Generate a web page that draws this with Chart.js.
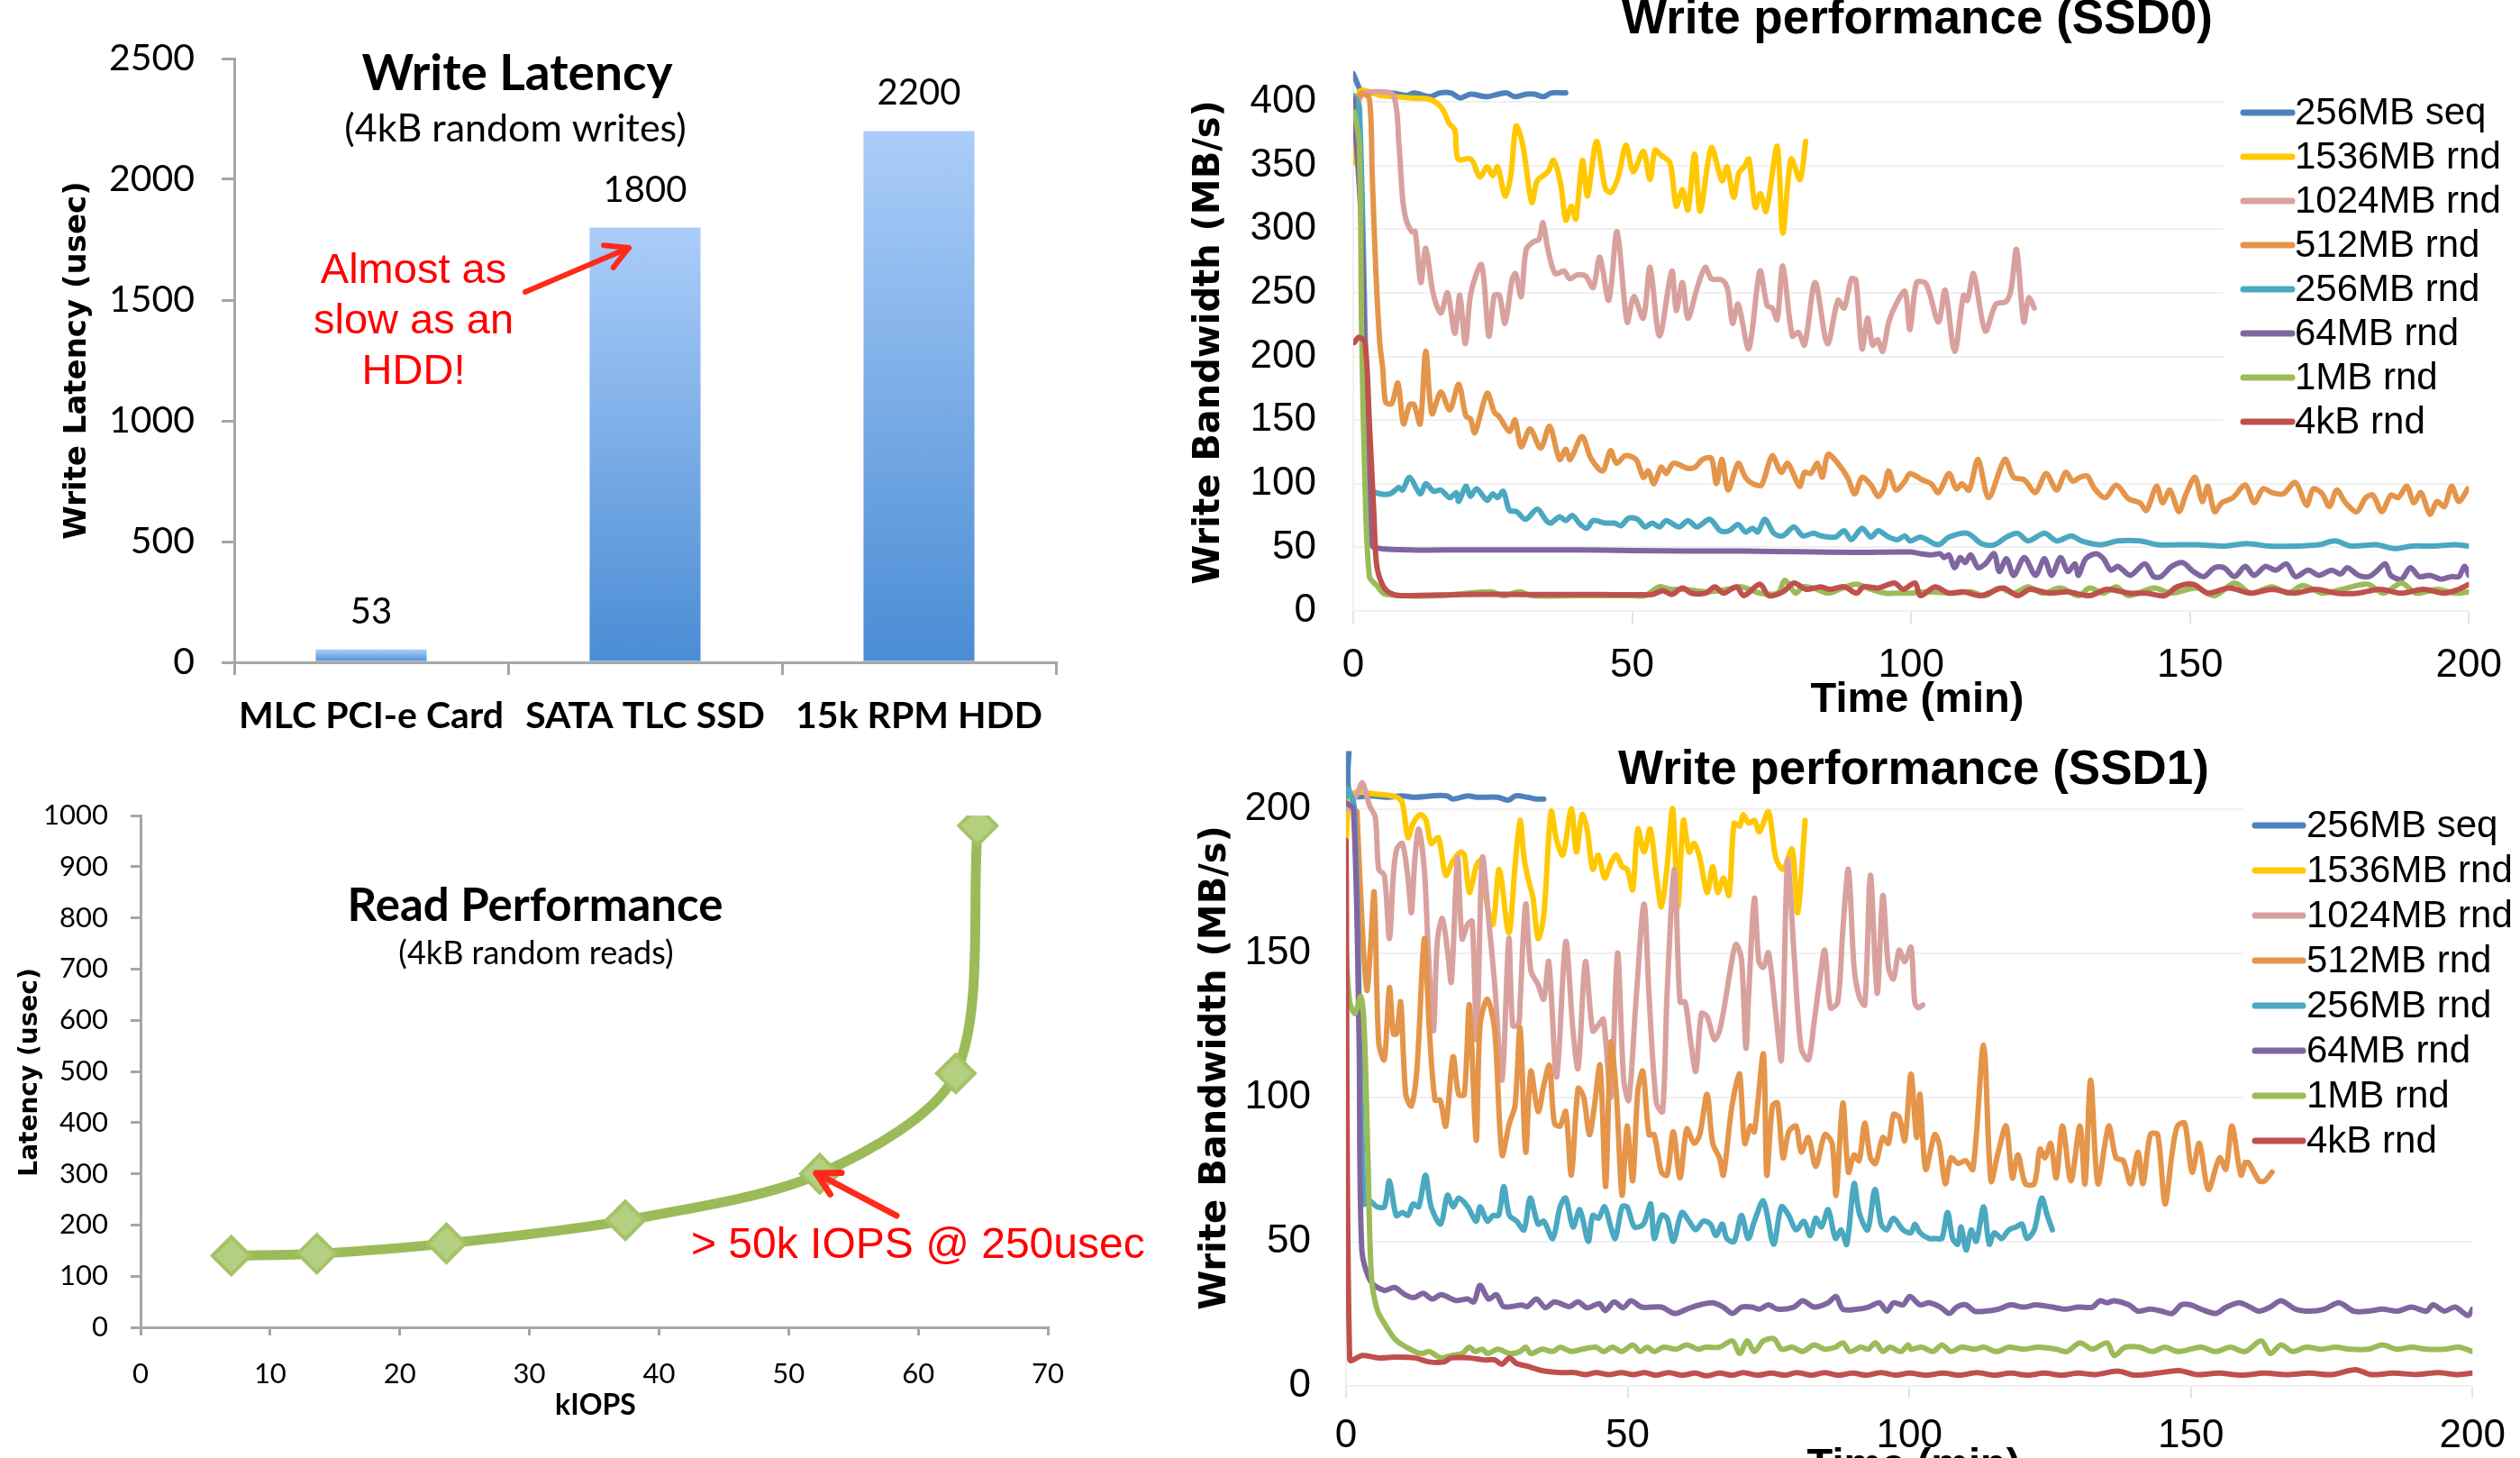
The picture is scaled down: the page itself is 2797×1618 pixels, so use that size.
<!DOCTYPE html>
<html>
<head>
<meta charset="utf-8">
<script src="https://cdn.jsdelivr.net/npm/chart.js@4.4.1/dist/chart.umd.min.js"></script>
<style>
  html, body { margin: 0; padding: 0; background: #fff; }
  #page { position: relative; width: 2797px; height: 1618px; overflow: hidden; background: #fff; }
  #page canvas { position: absolute; left: 0; top: 0; }
</style>
</head>
<body>
<div id="page">
  <canvas id="c-lat" width="2797" height="1618"></canvas>
  <canvas id="c-read" width="2797" height="1618"></canvas>
  <canvas id="c-ssd0" width="2797" height="1618"></canvas>
  <canvas id="c-ssd1" width="2797" height="1618"></canvas>
</div>
<script>
// ---- data ----
const latencyLabels = ['MLC PCI-e Card', 'SATA TLC SSD', '15k RPM HDD'];
const latencyValues = [53, 1800, 2200];

const readIops    = [7, 13.6, 23.6, 37.4, 52.4, 62.9, 64.6];
const readLatency = [140, 144, 164, 209, 300, 496, 980];

const seriesNames = ['256MB seq', '1536MB rnd', '1024MB rnd', '512MB rnd', '256MB rnd', '64MB rnd', '1MB rnd', '4kB rnd'];
const timeTicks = [0, 50, 100, 150, 200];
const ssd0Ticks = [0, 50, 100, 150, 200, 250, 300, 350, 400];
const ssd1Ticks = [0, 50, 100, 150, 200];

// SSD0, [minute, MB/s]
const ssd0Seq = [[0,422],[0.2,420],[1.55,408],[4,407],[7,407],[9.55,405],[11,407],[13.8,404],[15.5,407],[17.5,407],[19.2,403],[21,406],[24,404],[26,406],[27.5,407],[29,404],[31,406],[32.5,406],[34.1,404],[35.5,407],[38.1,407]];
const ssd0Rnd1536 = [[0,352],[1.1,408],[5,405],[10.5,403],[13.7,402],[15.9,395],[17.2,383],[18.2,378],[18.8,355],[21.1,355],[22.7,341],[24,349],[25,342],[25.9,349],[27.2,326],[28.2,341],[29.2,381],[30.4,366],[32,321],[33,338],[34.9,345],[35.9,354],[37.2,335],[38.1,307],[39.1,318],[39.9,308],[41.1,354],[42,326],[43.6,369],[45.2,332],[46.2,329],[47.5,341],[48.9,366],[50.2,345],[52,361],[53.2,339],[54.1,362],[55.2,358],[56.8,352],[57.9,318],[59,331],[60,315],[61.2,359],[62.2,314],[64.2,364],[66.1,338],[67,349],[68.2,325],[69.1,344],[70.1,349],[70.9,355],[72.1,317],[73,328],[74,314],[76,365],[77,297],[78.5,355],[80.1,339],[81.1,369]];
const ssd0Rnd1024 = [[0,380],[1.45,405],[4,408],[7.2,405],[8.2,366],[8.85,324],[9.5,307],[10.5,298],[11.1,298],[12.1,258],[13,285],[14.3,250],[15.7,234],[16.9,250],[18.2,218],[19.1,248],[20.1,210],[21.1,250],[23,272],[24.3,216],[25.3,248],[26.2,248],[27.2,226],[28.5,261],[29.1,265],[30.1,247],[31,284],[32.3,290],[33.3,292],[34,305],[34.9,284],[36.2,265],[37.8,267],[38.8,261],[40.1,264],[41.7,263],[43,254],[44.2,278],[45.8,244],[47.3,298],[49.1,227],[50.3,247],[52,230],[53.2,270],[54.9,216],[57.1,267],[57.9,236],[59,258],[60,230],[61.6,253],[63.1,270],[64.2,261],[66.1,260],[67.1,253],[68,226],[69,241],[70.9,206],[72.9,267],[74.2,240],[75.1,238],[76,229],[77,271],[78.7,216],[79.8,219],[80.9,209],[82.8,258],[85,210],[86.9,244],[88,238],[89.3,261],[90.1,260],[91.2,206],[92.2,230],[93.1,209],[94,213],[94.9,204],[96,227],[97.3,241],[98.9,251],[99.8,221],[101,258],[102.7,257],[104.9,227],[106.1,252],[107.8,204],[109.4,248],[110.1,244],[111.2,265],[113.3,220],[115.2,241],[117,243],[117.9,252],[118.9,284],[120.2,227],[121.1,246],[122.1,238]];
const ssd0Rnd512 = [[0.75,403],[1.55,407],[2.9,402],[3.4,343],[4,272],[4.75,211],[5.3,190],[5.8,164],[6.9,163],[8,179],[9,147],[10.1,162],[10.9,162],[12,147],[13,204],[14.1,155],[15.7,172],[17.3,158],[18.9,178],[20.2,153],[21,151],[21.8,140],[24,171],[25.3,156],[26.1,153],[28,141],[29,150],[30.1,129],[31.7,143],[33.6,128],[35.2,145],[37,119],[38.1,127],[38.9,119],[41,137],[42.6,120],[44.7,110],[46.1,126],[47.2,116],[48.8,122],[50.7,119],[52,105],[52.9,110],[53.9,100],[55.2,113],[56.1,108],[57.4,116],[60,112],[61.3,113],[62.6,119],[64.2,120],[65.1,100],[66.1,119],[67.2,95],[69,116],[70.3,105],[71.6,100],[73.2,99],[75.1,122],[76.7,109],[77.9,116],[80,98],[80.9,109],[82,108],[83.2,116],[84.1,105],[85.1,123],[86.7,117],[88.6,105],[89.9,92],[91.2,105],[92.8,99],[94.1,90],[95.1,96],[96,110],[97.3,95],[98.9,102],[99.8,108],[102,103],[103.6,100],[104.9,93],[106.8,108],[108.1,96],[109.1,100],[110.4,95],[112,119],[113.9,89],[116.8,119],[118.4,105],[120.3,103],[122.3,93],[124.2,108],[126.1,95],[127.7,109],[129,102],[130.3,105],[131.6,106],[132.9,96],[134.8,89],[136.8,99],[139,88],[141,85],[142.2,79],[144,98],[145.1,85],[146.4,95],[148,78],[149.3,92],[150.9,105],[152.2,86],[153.2,98],[154.4,78],[155.7,85],[157.7,89],[159.9,99],[161.5,85],[163.1,96],[164.7,93],[166.7,92],[168.9,101],[170.9,83],[172.1,96],[173.7,92],[175,82],[176.3,95],[177.9,85],[179.9,78],[181.5,89],[182.8,91],[184.4,78],[186,91],[187.3,89],[188.9,98],[190.1,85],[191.4,93],[193,76],[194.3,86],[195.6,82],[196.9,98],[198.2,86],[199.8,96]];
const ssd0Rnd256 = [[0,405],[1.1,396],[2.9,98],[4,93],[6.6,92],[8.2,97],[8.85,95],[10.1,105],[12,92],[13,100],[14.4,94],[15.7,95],[17.3,89],[18.5,93],[18.9,86],[20.2,98],[21,90],[22.1,96],[24,87],[25,92],[25.9,89],[26.9,94],[28,79],[29.3,78],[30.9,72],[33,80],[34.6,71],[35.4,69],[37,74],[38.1,71],[39.3,75],[40.7,68],[41.9,65],[43,71],[45.2,69],[46.8,69],[48,67],[49.4,73],[51,72],[52.3,66],[53.6,69],[54.9,66],[56.1,71],[58.4,66],[60,71],[61.6,66],[63.9,72],[65.8,63],[67.4,63],[69,68],[70.3,62],[71.6,65],[72.5,62],[73.8,72],[75.4,61],[77,59],[79,66],[80.6,59],[82.5,61],[83.8,59],[86.4,58],[88,63],[89.3,56],[91.2,65],[92.8,58],[94.1,63],[96,58],[97.6,56],[98.9,59],[99.8,55],[101.7,58],[104.9,52],[106.8,58],[110.1,61],[112.6,53],[114.9,52],[117.1,58],[119.1,61],[121,55],[123.9,61],[126.1,55],[128.7,59],[130.6,55],[133.9,52],[137.1,55],[141,55],[144.2,52],[148,52],[151.2,52],[156.4,51],[160.2,53],[164.1,51],[169.2,51],[173.1,52],[176,55],[178.9,51],[183.4,52],[186.6,49],[189.8,51],[193.7,51],[197.5,52],[200,51]];
const ssd0Rnd64 = [[0,402],[1.5,300],[2.5,110],[3.1,57],[3.7,50],[10,48],[20,48],[30,48],[40,48],[50,47.5],[60,47],[70,47],[80,46.5],[90,46],[99.8,46.4],[101.7,45],[103.6,44],[105.2,45],[105.9,42],[106.8,44],[107.8,34],[108.8,42],[109.7,38],[110.7,44],[112,34],[113.3,37],[114.9,45],[115.8,31],[117.1,41],[118.4,28],[120.3,42],[122.3,28],[123.9,41],[125.2,28],[126.8,42],[128.1,31],[129.4,37],[130,28],[131.3,41],[133.2,45],[134.5,41],[135.8,32],[137.1,35],[139.3,28],[141.9,37],[143.5,27],[144.8,27],[146.7,35],[148.7,38],[150.6,31],[152.5,27],[154.4,34],[156.1,34],[158,27],[159.9,35],[161.5,28],[163.5,35],[165.4,32],[167.3,37],[168.9,27],[171.2,32],[173.1,28],[175.4,32],[177,29],[178.2,34],[180.2,28],[182.1,27],[183.4,31],[185,37],[186,28],[187.9,25],[189.5,34],[191.1,27],[193,28],[195,25],[196.9,27],[198.2,27],[199.2,35],[200,28]];
const ssd0Rnd1m = [[0.2,392],[1.1,366],[1.5,220],[2.1,100],[2.9,27],[4.2,20],[5.8,13],[15,12],[24.6,15],[27,12],[29.8,15],[32,12],[40,12],[50,12],[52.3,12],[54.9,19],[56.8,17],[59.4,17],[63.2,15],[67.1,17],[69.6,19],[72.9,14],[76.1,14],[77.4,24],[79.3,14],[80.6,19],[82.5,18],[85.1,14],[87.7,18],[90.2,21],[92.8,17],[95.4,14],[98,14],[99.8,14],[103,15],[107.5,14],[110.7,15],[113.3,12],[115.8,18],[118.4,14],[121,19],[123.6,14],[126.8,18],[130,12],[132,18],[134.5,14],[136.8,19],[139,12],[143.5,18],[146.7,14],[151.2,18],[154.4,12],[158,22],[160.9,14],[164.7,19],[167.6,14],[170.2,20],[173.7,14],[177.3,17],[181.8,21],[184.7,14],[187.9,22],[190.5,14],[194.3,17],[197.5,14],[200,15]];
const ssd0Rnd4k = [[0.2,211],[1,215],[2.1,211],[2.9,147],[3.7,76],[4.2,36],[5.3,20],[6.6,14],[8.5,12],[20,13],[30,13],[40,13],[53.6,13],[55.5,16],[57.1,13],[59,18],[60.6,14],[63.2,14],[64.8,19],[66.4,14],[68.7,19],[70,12],[72.9,21],[74.5,12],[77,15],[79,22],[81.2,17],[83.8,19],[85.4,17],[88,19],[90.2,14],[91.5,19],[94.1,18],[97,22],[98.6,17],[100.7,22],[101.7,12],[104.3,19],[106.8,14],[109.4,15],[112.6,12],[116.5,18],[119.1,12],[121.3,17],[124.8,14],[128.1,15],[132,12],[135.1,17],[139,14],[142.2,14],[145.4,12],[147.7,19],[150.6,21],[153.2,14],[157,18],[160.9,14],[164.7,17],[168.6,14],[172.5,17],[176.3,14],[180.2,14],[184,17],[187.9,14],[191.8,17],[195.6,14],[198.2,17],[200,21]];

// SSD1, [minute, MB/s]
const ssd1Seq = [[0.6,224],[0.69,205],[4.66,204.5],[7.3,204],[9.96,204.5],[12.1,204],[15.3,204.5],[17.9,204.5],[19,203.4],[21.6,204.5],[23.2,204],[26.9,204],[28.8,203],[30.1,204.5],[32.2,204],[33.8,203.4],[35.1,203.4]];
const ssd1Rnd1536 = [[0,189],[1,205],[5.8,205],[9,204],[10,202],[11,190],[11.9,195],[13.2,198],[14.2,196],[15.1,188],[16.4,190],[17.7,177],[19,182],[20.3,185],[21,184],[21.9,171],[23.1,180],[23.8,182],[25.1,166],[26.1,160],[27.2,179],[28.9,157],[30,180],[30.9,196],[31.6,183],[32.3,176],[33.2,169],[34.1,155],[35.1,163],[36.4,199],[37.4,189],[38.5,184],[40,200],[40.9,185],[41.9,198],[42.8,193],[43.8,179],[44.8,184],[45.9,176],[47,181],[48,184],[49,180],[49.9,179],[50.9,172],[51.8,193],[52.9,185],[54,193],[55.1,177],[56,166],[57,180],[58,200],[58.9,166],[59.9,196],[60.9,185],[61.8,188],[62.8,183],[64.1,171],[65.1,180],[66,171],[67,176],[68,170],[68.9,195],[69.9,194],[70.5,198],[71.5,195],[72.5,196],[73.4,192],[75,199],[76.3,183],[77.6,179],[79.2,186],[80.2,164],[81.5,196]];
const ssd1Rnd1024 = [[0.3,200],[1.94,205],[2.9,209],[4.2,201],[5.2,197],[5.8,179],[6.8,177],[7.7,155],[8.4,177],[9,186],[10,188],[11,176],[11.6,164],[12.2,182],[12.9,193],[13.9,179],[14.5,155],[15.5,123],[16.2,154],[17.1,162],[18,151],[18.7,140],[19.8,183],[20.6,155],[21.6,160],[22.4,161],[23.2,120],[24.2,183],[25.4,160],[26.4,139],[27.7,106],[28.9,155],[29.6,125],[30.6,125],[30.9,133],[31.9,167],[32.8,144],[34.1,139],[35.1,134],[36,147],[37.4,107],[39,154],[40.3,123],[41.2,110],[42.5,147],[43.8,123],[44.8,125],[45.7,127],[47,100],[48.2,150],[49.3,106],[50.2,99],[51.5,134],[52.9,167],[53.8,135],[55.1,98],[56.2,95],[57,136],[58.3,179],[59.3,133],[60.2,133],[61.2,119],[62.1,109],[63.1,129],[64.1,128],[65.4,120],[66.3,123],[67.3,133],[68.3,145],[69.2,153],[70.2,148],[71,117],[71.5,136],[72.5,169],[73.3,147],[74.1,145],[75,150],[76.3,129],[77.3,113],[78.4,182],[79.5,151],[80.8,117],[82.1,113],[83.1,126],[84,139],[85,151],[86,131],[87.3,133],[88.2,158],[89.2,179],[90.2,145],[91.1,135],[92.1,132],[93.1,177],[94.3,136],[95.3,170],[96.3,145],[97.2,141],[98.2,151],[99.2,147],[100.3,152],[100.96,133],[101.6,131],[102.4,132]];
const ssd1Rnd512 = [[1.94,199],[2.9,158],[3.7,137],[4.4,154],[5,171],[5.8,119],[6.8,113],[7.7,138],[8.4,122],[9,122],[9.7,133],[10.6,101],[11.6,97],[12.6,110],[13.9,155],[14.8,123],[15.8,99],[16.7,99],[17.7,90],[19,114],[20,101],[21,101],[21.9,132],[23.1,85],[23.8,125],[25.1,134],[26.4,123],[27.7,80],[29,91],[30,97],[30.9,124],[31.9,81],[32.8,109],[34.1,95],[35.1,104],[36.1,111],[37,91],[38,90],[39,95],[40,73],[41.2,103],[42.2,100],[43.2,87],[44.1,97],[45.1,111],[46.1,69],[47,119],[48,101],[49,66],[49.9,90],[50.9,71],[51.8,102],[52.7,109],[53.8,87],[54.7,87],[56,74],[57,73],[58.1,88],[59.3,72],[60.5,89],[61.8,84],[62.8,87],[64.1,101],[65.1,84],[66.3,79],[67,73],[68.3,94],[69.2,104],[69.9,108],[70.8,84],[71.8,90],[72.5,88],[74.1,115],[74.7,73],[75.7,97],[76.6,98],[77.6,79],[78.6,88],[79.9,90],[80.8,81],[82.1,86],[83.4,76],[85,87],[86.3,84],[87,66],[88.2,98],[89.2,74],[90.2,80],[91.1,78],[92.1,91],[93.1,79],[94,77],[95.3,86],[96.3,84],[97.2,94],[98.2,93],[99.2,85],[100.3,108],[101.3,86],[101.9,101],[102.9,75],[104.5,87],[105.3,84],[106.4,70],[107.4,79],[108.7,77],[110,78],[111.3,75],[113.2,118],[114.5,71],[115.8,81],[117.2,90],[118.3,72],[119.3,80],[120.6,70],[122.2,70],[123.2,82],[124.1,79],[125.1,84],[126.1,72],[127.2,90],[128.7,71],[130.3,90],[131.2,70],[132.2,106],[133.5,70],[135.4,90],[136.7,79],[138,78],[139.3,70],[140.6,81],[141.5,70],[142.8,87],[144.1,87],[145.4,63],[146.7,81],[147.6,90],[148.9,91],[150.2,74],[151.5,84],[153.1,68],[155.1,79],[156.2,75],[157.3,90],[158.9,73],[159.9,78],[162.1,71],[163.1,71],[164.4,74]];
const ssd1Rnd256 = [[0,204],[0.33,207],[1.5,200],[3.2,63],[4.2,64],[5.5,62],[6.8,62],[7.7,71],[8.9,59],[10,60],[11,59],[11.9,63],[12.9,62],[14.1,73],[15.1,62],[16.8,56],[18,66],[19,62],[20,65],[21.6,62],[23.1,57],[23.8,62],[25.1,57],[26.1,59],[27.1,59],[28,69],[29,59],[30.3,57],[31.6,54],[32.7,65],[34.1,56],[35.1,57],[36.7,51],[38,62],[39,65],[40.3,55],[41.5,61],[43,50],[43.8,59],[44.8,58],[45.9,62],[47,55],[47.8,51],[49,62],[49.9,62],[51.2,55],[52.8,56],[54.1,63],[54.7,51],[56,59],[57,58],[58.1,50],[59.6,60],[60.9,57],[62.1,54],[63.4,57],[64.7,56],[65.7,52],[66.8,56],[67.6,51],[68.9,50],[70.2,59],[71.4,51],[72.5,57],[74.1,64],[75.9,49],[77.3,62],[78.6,59],[79.9,54],[81.3,57],[82.4,52],[83.4,58],[84.4,55],[85.6,61],[86.9,51],[87.9,54],[88.9,49],[90.2,70],[91.1,60],[92.6,54],[93.9,68],[95,56],[96,54],[97.2,58],[98.9,54],[100.3,53],[101,56],[101.9,53],[103.5,51],[104.8,51],[105.8,51],[106.8,60],[107.7,51],[108.6,49],[109.2,55],[110.1,47],[111,54],[111.9,50],[113.2,62],[114.2,49],[115.1,53],[116.4,51],[117.7,54],[119,55],[120,56],[120.9,51],[122.2,54],[123.5,65],[124.5,59],[125.4,54]];
const ssd1Rnd64 = [[0,202],[1.3,200],[2.3,122],[2.8,47],[4.4,36],[6.8,33],[8.6,34],[10.5,31.5],[12.1,30.5],[13.7,32],[15.3,30],[16.9,31.5],[19.5,29.5],[21.6,30],[22.7,29],[23.8,34.7],[25.3,30],[26.7,31.5],[28,27.4],[31.2,27.9],[32.2,27.4],[33.8,30],[35.4,27],[37,29],[39.6,27.4],[41.2,29],[42.8,27],[45,28.4],[46,26],[47.6,29],[49.2,27],[50.6,29.4],[52.5,27.2],[56,27.2],[58.3,25],[60.5,26.5],[62.8,28],[65.1,28.7],[67,27.2],[68.6,25],[70.2,27.2],[72.1,27.2],[73.4,26.5],[75,28],[76.6,26.5],[79.5,27.2],[81.1,29.4],[83.1,27.2],[85.6,28.7],[87,30.9],[88.2,26.5],[90.8,26.5],[92.7,27.2],[94.7,28.7],[96,25.8],[97.2,28.7],[98.9,28],[100.1,30.9],[101.9,28],[103.5,28.7],[105.5,27.2],[107.1,25],[108.4,27.2],[110,28],[111.6,25.8],[113.5,25.8],[115.8,26.5],[118,28],[120.3,27.2],[122.5,28],[125.4,27.2],[127.7,26.5],[130,27.2],[132.5,27.2],[133.8,29.4],[135.1,28.7],[136.4,29.4],[139,28],[140.6,25.8],[142.8,26.5],[144.8,25.8],[146.7,25],[148.3,28],[149.9,28],[151.8,26.5],[154.4,25],[156.3,27.2],[158.6,28.7],[160.5,27.2],[162.1,25.8],[164.1,27.2],[166,29.4],[168.6,26.5],[171.2,25.8],[173.7,26.5],[176.3,28.7],[178.9,25.8],[181.5,25.8],[184,26.5],[186.6,25.8],[189.2,27.2],[191.8,25.8],[193,28],[195,25.8],[196.9,27.2],[199.2,24.3],[200,26.5]];
const ssd1Rnd1m = [[0,150],[0.65,133],[1.6,129],[2.6,135],[3.2,125],[3.9,78],[4.5,38],[5.5,26.5],[7.1,20.6],[9,15.5],[12.2,11.8],[13.5,11.1],[14.8,11.8],[16.8,9.6],[18.7,10.4],[20.6,11.1],[21.9,13.3],[22.9,11.8],[24.2,12.6],[25.1,11.1],[27,12.6],[29,11.1],[30.9,11.8],[31.9,13.3],[32.8,11.1],[34.8,12.6],[36.7,11.8],[38,13.3],[40,11.8],[41.9,12.6],[44.4,13.3],[45.7,11.8],[47.3,13.3],[49,11.8],[50.9,14.1],[52.2,11.8],[53.5,13.3],[54.7,11.8],[56.4,13.3],[58.6,12.6],[60.5,14.1],[62.5,12.6],[63.8,13.3],[66.3,13.3],[68.6,15.5],[69.9,11.1],[71.2,15.5],[72.5,11.8],[74.1,15.5],[76,16.2],[77.3,12.6],[79.2,13.3],[81.1,11.8],[83.1,14.1],[85,12.6],[86.9,13.3],[88.2,14.8],[89.5,11.8],[91.4,13.3],[92.7,12.6],[94,14.8],[95.3,11.8],[96.6,13.3],[98.5,11.8],[99.8,14.1],[100.3,12.6],[102.2,13.3],[104.2,11.8],[105.8,14.1],[107.4,11.8],[109.3,13.3],[111.6,12.6],[113.2,13.3],[115.5,11.8],[117.7,13.3],[120.3,12.6],[122.9,13.3],[126.1,12.6],[128,11.8],[130.3,14.8],[132.5,12.6],[135.1,14.8],[136.4,10.4],[138.3,13.3],[140.9,13.3],[143.1,11.8],[145.4,13.3],[147.6,11.8],[149.9,12.6],[151.8,13.3],[154.4,11.8],[157,13.3],[159.6,11.8],[162.5,15.5],[164.1,11.1],[166,14.1],[168,11.8],[170.5,13.3],[173.1,12.6],[175.7,13.3],[178.2,12.6],[181.5,12.6],[184,14.1],[186.6,12.6],[189.2,13.3],[191.8,12.6],[195,12.6],[197.6,13.3],[200,11.8]];
const ssd1Rnd4k = [[0,189],[0.65,9],[2.9,10.4],[5.8,9.6],[9,9.9],[12.2,9.6],[14.8,8.2],[17.4,8.2],[18.7,9.6],[21.9,9.6],[24.5,8.9],[26.4,8.9],[27.7,7.4],[29,9.6],[30.3,7.6],[32.2,6.7],[34.8,5.2],[38,4.5],[40.6,4.5],[42.5,3.8],[44.4,4.5],[46.7,3.8],[48.9,4.5],[51,3.8],[53,4.5],[55,3.6],[57.3,4.5],[59.6,3.6],[62,4.3],[64,3.4],[66.3,4.3],[68.6,3.6],[70.5,4.5],[73,3.6],[75.5,4.3],[78,3.6],[80,4.5],[82.7,3.6],[85,4.5],[87.3,3.6],[90,4.3],[92.4,3.6],[95,4.5],[97.5,3.6],[100,4.3],[103,3.6],[106,4.3],[109,3.6],[112,4.5],[115,3.6],[118,4.3],[121,3.6],[124,4.3],[127,3.6],[130,4.3],[133,3.8],[137,5],[140,3.6],[144,4.3],[147.9,5.2],[151,3.8],[155,4.3],[159,3.6],[163,4.3],[167,3.8],[171,4.3],[175,3.8],[179.2,5.5],[182,3.8],[186,4.3],[190,3.8],[194,4.5],[197,3.8],[200,4.3]];

// ---- styles ----
const seriesColors = ['#4f81bd', '#ffc800', '#d9a19e', '#e4954a', '#4aa8c1', '#8066a0', '#9bbb59', '#c0504d'];
const AXIS = '#a6a6a6';
const CALIBRI = 'Lato, "Open Sans", sans-serif';
const ARIAL = '"Liberation Sans", Arial, sans-serif';
const VERDANA = '"DejaVu Sans", Verdana, sans-serif';
const plainNumber = v => String(v);

function arrow(ctx, x0, y0, x1, y1, head, width, color) {
  const a = Math.atan2(y1 - y0, x1 - x0);
  ctx.save();
  ctx.strokeStyle = color; ctx.lineWidth = width; ctx.lineCap = 'round'; ctx.lineJoin = 'round';
  ctx.beginPath(); ctx.moveTo(x0, y0); ctx.lineTo(x1, y1); ctx.stroke();
  ctx.beginPath();
  ctx.moveTo(x1 - head * Math.cos(a - 0.5), y1 - head * Math.sin(a - 0.5));
  ctx.lineTo(x1, y1);
  ctx.lineTo(x1 - head * Math.cos(a + 0.5), y1 - head * Math.sin(a + 0.5));
  ctx.stroke();
  ctx.restore();
}

function vtext(ctx, s, x, y, font) {
  ctx.save();
  ctx.translate(x, y); ctx.rotate(-Math.PI / 2);
  ctx.font = font; ctx.fillStyle = '#000'; ctx.textAlign = 'center'; ctx.textBaseline = 'middle';
  ctx.fillText(s, 0, 0);
  ctx.restore();
}

// fixed plot rectangles: chart area = padding + fixed axis sizes
function fixW(w) { return s => { s.width = w; }; }
function fixH(h) { return s => { s.height = h; }; }
function useTicks(values) { return s => { s.ticks = values.map(v => ({ value: v })); }; }

// ---- Write Latency bars ----
new Chart(document.getElementById('c-lat'), {
  type: 'bar',
  data: {
    labels: latencyLabels,
    datasets: [{
      data: latencyValues,
      barPercentage: 0.405,
      categoryPercentage: 1,
      borderWidth: 0,
      backgroundColor: c => {
        const y = c.chart.scales.y;
        if (!y || c.dataIndex === undefined) return '#7aaae8';
        const top = y.getPixelForValue(latencyValues[c.dataIndex]);
        const base = y.getPixelForValue(0);
        if (!isFinite(top) || !isFinite(base) || top === base) return '#7aaae8';
        const g = c.chart.ctx.createLinearGradient(0, top, 0, base);
        g.addColorStop(0, '#abcdf9');
        g.addColorStop(1, '#4a8cd4');
        return g;
      },
    }],
  },
  options: {
    responsive: false, devicePixelRatio: 1, animation: false,
    layout: { autoPadding: false, padding: { left: 40, top: 65, right: 1625, bottom: 803 } },
    plugins: { legend: { display: false }, tooltip: { enabled: false } },
    scales: {
      x: {
        afterFit: fixH(80),
        grid: { offset: true, drawOnChartArea: false, tickLength: 14, color: AXIS, lineWidth: 3 },
        border: { color: AXIS, width: 3 },
        ticks: { color: '#000', padding: 21, font: { family: CALIBRI, size: 41, weight: 'bold' } },
      },
      y: {
        min: 0, max: 2500,
        afterFit: fixW(220),
        grid: { drawOnChartArea: false, tickLength: 14, color: AXIS, lineWidth: 3 },
        border: { color: AXIS, width: 3 },
        ticks: { stepSize: 500, callback: plainNumber, color: '#000', padding: 30, font: { family: CALIBRI, size: 41 } },
      },
    },
  },
  plugins: [{
    id: 'latText',
    afterDraw(chart) {
      const ctx = chart.ctx, sx = chart.scales.x, sy = chart.scales.y;
      ctx.save();
      ctx.fillStyle = '#000'; ctx.textAlign = 'center'; ctx.textBaseline = 'alphabetic';
      ctx.font = 'bold 55px ' + CALIBRI; ctx.fillText('Write Latency', 574, 100);
      ctx.font = '43px ' + CALIBRI; ctx.fillText('(4kB random writes)', 572, 157);
      ctx.font = '40px ' + CALIBRI;
      latencyValues.forEach((v, i) => ctx.fillText(String(v), sx.getPixelForValue(i), sy.getPixelForValue(v) - 29));
      ctx.fillStyle = '#ff0000'; ctx.font = '47px ' + ARIAL;
      ['Almost as', 'slow as an', 'HDD!'].forEach((s, i) => ctx.fillText(s, 459, 314 + i * 56));
      ctx.restore();
      vtext(ctx, 'Write Latency (usec)', 86, 400, 'bold 34px ' + VERDANA);
      arrow(ctx, 583, 324, 698, 275, 28, 6, '#ff2a1a');
    },
  }],
});

// ---- Read performance ----
new Chart(document.getElementById('c-read'), {
  type: 'line',
  data: {
    datasets: [{
      data: readIops.map((x, i) => ({ x, y: readLatency[i] })),
      borderColor: '#9bbb59', borderWidth: 11,
      tension: 0.3,
      pointStyle: 'rectRot', pointRadius: 21,
      pointBackgroundColor: '#b5cf80', pointBorderColor: '#a6c267', pointBorderWidth: 4,
    }],
  },
  options: {
    responsive: false, devicePixelRatio: 1, animation: false,
    layout: { autoPadding: false, padding: { left: 6, top: 905, right: 1634, bottom: 65 } },
    plugins: { legend: { display: false }, tooltip: { enabled: false } },
    scales: {
      x: {
        type: 'linear', min: 0, max: 70,
        afterFit: fixH(80),
        grid: { drawOnChartArea: false, tickLength: 9, color: AXIS, lineWidth: 3 },
        border: { color: AXIS, width: 3 },
        ticks: { stepSize: 10, callback: plainNumber, color: '#000', padding: 24, font: { family: CALIBRI, size: 31 } },
      },
      y: {
        min: 0, max: 1000,
        afterFit: fixW(150),
        grid: { drawOnChartArea: false, tickLength: 11, color: AXIS, lineWidth: 3 },
        border: { color: AXIS, width: 3 },
        ticks: { stepSize: 100, callback: plainNumber, color: '#000', padding: 25, font: { family: CALIBRI, size: 31 } },
      },
    },
  },
  plugins: [{
    id: 'readText',
    afterDraw(chart) {
      const ctx = chart.ctx;
      ctx.save();
      ctx.fillStyle = '#000'; ctx.textAlign = 'center'; ctx.textBaseline = 'alphabetic';
      ctx.font = 'bold 51px ' + CALIBRI; ctx.fillText('Read Performance', 594, 1022);
      ctx.font = '36px ' + CALIBRI; ctx.fillText('(4kB random reads)', 595, 1070);
      ctx.font = 'bold 32px ' + CALIBRI; ctx.fillText('kIOPS', 661, 1570);
      ctx.fillStyle = '#ff0000'; ctx.textAlign = 'left'; ctx.font = '48px ' + ARIAL;
      ctx.fillText('> 50k IOPS @ 250usec', 767, 1396);
      ctx.restore();
      vtext(ctx, 'Latency (usec)', 34, 1190, 'bold 28px ' + VERDANA);
      arrow(ctx, 995, 1349, 906, 1302, 28, 7, '#ff2a1a');
    },
  }],
});

// ---- write performance panels ----
function perfDatasets(series) {
  return series.map((pts, i) => ({
    label: seriesNames[i],
    data: pts.map(p => ({ x: p[0], y: p[1] })),
    borderColor: seriesColors[i], borderWidth: 6,
    pointRadius: 0, tension: 0.3,
    borderJoinStyle: 'round', borderCapStyle: 'round',
    order: series.length - i,
  }));
}

function perfChart(id, series, box, yMax, yTicks, title) {
  return new Chart(document.getElementById(id), {
    type: 'line',
    data: { datasets: perfDatasets(series) },
    options: {
      responsive: false, devicePixelRatio: 1, animation: false,
      layout: { autoPadding: false, padding: box.padding },
      plugins: { legend: { display: false }, tooltip: { enabled: false } },
      scales: {
        x: {
          type: 'linear', min: 0, max: 200,
          afterFit: fixH(90),
          afterBuildTicks: useTicks(timeTicks),
          grid: { drawOnChartArea: false, tickLength: 14, color: '#e3e3e3', lineWidth: 2 },
          border: { display: false },
          ticks: { color: '#000', padding: box.xPad, font: { family: ARIAL, size: 44 } },
        },
        y: {
          min: 0, max: yMax,
          afterFit: fixW(200),
          afterBuildTicks: useTicks(yTicks),
          grid: { drawTicks: false, color: '#f0f0f0', lineWidth: 2 },
          border: { display: true, color: '#f0f0f0', width: 2 },
          ticks: { color: '#000', padding: box.yPad, font: { family: ARIAL, size: 44 } },
        },
      },
    },
    plugins: [{
      id: 'perfLegend',
      afterDatasetsDraw(chart) {
        const ctx = chart.ctx, L = box.legend;
        ctx.save();
        ctx.fillStyle = '#fff';
        ctx.fillRect(L.box[0], L.box[1], L.box[2], L.box[3]);
        ctx.lineWidth = 7; ctx.lineCap = 'round';
        ctx.font = '42px ' + ARIAL; ctx.textBaseline = 'middle'; ctx.textAlign = 'left';
        seriesNames.forEach((name, i) => {
          const y = L.y0 + i * L.step;
          ctx.strokeStyle = seriesColors[i];
          ctx.beginPath(); ctx.moveTo(L.x0, y); ctx.lineTo(L.x1, y); ctx.stroke();
          ctx.fillStyle = '#000';
          ctx.fillText(name, L.tx, y + 1);
        });
        ctx.restore();
      },
      afterDraw(chart) {
        const ctx = chart.ctx;
        ctx.save();
        ctx.fillStyle = '#000'; ctx.textAlign = 'center'; ctx.textBaseline = 'alphabetic';
        ctx.font = 'bold 53px ' + ARIAL; ctx.fillText(title, box.titleX, box.titleY);
        ctx.font = 'bold 47px ' + ARIAL; ctx.fillText('Time (min)', box.titleX, box.timeY);
        ctx.restore();
        vtext(ctx, 'Write Bandwidth (MB/s)', box.yTitleX, box.yTitleY, 'bold 40px ' + VERDANA);
      },
    }],
  });
}

perfChart('c-ssd0',
  [ssd0Seq, ssd0Rnd1536, ssd0Rnd1024, ssd0Rnd512, ssd0Rnd256, ssd0Rnd64, ssd0Rnd1m, ssd0Rnd4k],
  {
    padding: { left: 1302, top: 77.7, right: 46, bottom: 850 },
    xPad: 20, yPad: 41,
    legend: { box: [2468, 88, 329, 400], x0: 2490, x1: 2544, tx: 2547, y0: 125, step: 49 },
    titleX: 2128, titleY: 37, timeY: 790, yTitleX: 1343, yTitleY: 380,
  }, 425, ssd0Ticks, 'Write performance (SSD0)');

perfChart('c-ssd1',
  [ssd1Seq, ssd1Rnd1536, ssd1Rnd1024, ssd1Rnd512, ssd1Rnd256, ssd1Rnd64, ssd1Rnd1m, ssd1Rnd4k],
  {
    padding: { left: 1294, top: 833.6, right: 45, bottom: -9.6 },
    xPad: 16, yPad: 39,
    legend: { box: [2489, 870, 308, 417], x0: 2503, x1: 2556, tx: 2560, y0: 916, step: 50 },
    titleX: 2124, titleY: 870, timeY: 1640, yTitleX: 1350, yTitleY: 1185,
  }, 220, ssd1Ticks, 'Write performance (SSD1)');
</script>
</body>
</html>
